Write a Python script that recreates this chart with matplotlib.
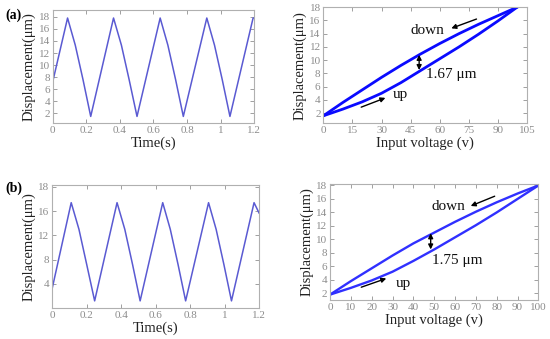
import matplotlib.pyplot as plt

# (a) displacement vs time (peaks, valleys and two points on each falling side)
t_a = [0, 0.088, 0.134, 0.180, 0.226, 0.362, 0.409, 0.455, 0.502, 0.640, 0.686, 0.732,
       0.778, 0.918, 0.964, 1.010, 1.056, 1.194, 1.2]
d_a = [7.3, 17.8, 13.3, 7.6, 1.5, 17.8, 13.3, 7.6, 1.5, 17.8, 13.3, 7.6,
       1.5, 17.8, 13.3, 7.6, 1.5, 17.8, 17.8]

# (b) displacement vs time
t_b = [0, 0.110, 0.155, 0.200, 0.246, 0.376, 0.421, 0.466, 0.510, 0.641, 0.685, 0.730,
       0.774, 0.907, 0.951, 0.996, 1.040, 1.171, 1.2]
d_b = [3.3, 17.4, 13.0, 7.2, 1.2, 17.4, 13.0, 7.2, 1.2, 17.4, 13.0, 7.2,
       1.2, 17.4, 13.0, 7.2, 1.2, 17.4, 15.7]

# hysteresis loops
volt = [0, 10, 20, 30, 40, 50, 60, 70, 80, 90, 100]
up_a = [1.6, 2.6, 3.7, 5.0, 6.6, 8.4, 10.2, 12.0, 13.9, 15.9, 18.0]
down_a = [1.6, 3.6, 5.5, 7.4, 9.2, 10.9, 12.5, 14.0, 15.4, 16.7, 18.0]
up_b = [1.8, 2.8, 3.9, 5.2, 6.8, 8.5, 10.3, 12.1, 14.0, 16.0, 18.0]
down_b = [1.8, 3.8, 5.7, 7.6, 9.4, 11.0, 12.6, 14.1, 15.5, 16.8, 18.0]

serif = 'Liberation Serif'
grey = '#8c8c8c'


def style(ax):
    for s in ax.spines.values():
        s.set_color('#b0b0b0')
        s.set_linewidth(0.8)
    ax.tick_params(direction='in', top=True, right=True, length=3, width=0.6,
                   color='#909090', labelcolor=grey, labelsize=8, pad=2)
    for lab in ax.get_xticklabels() + ax.get_yticklabels():
        lab.set_fontfamily(serif)


def arrow(ax, x0, y0, x1, y1, both=False):
    ax.annotate('', xy=(x1, y1), xytext=(x0, y0),
                arrowprops=dict(arrowstyle='<|-|>' if both else '-|>', color='black',
                                lw=1.0, mutation_scale=7, shrinkA=0, shrinkB=0))


fig = plt.figure(figsize=(5.5, 3.39), dpi=100)
lab_kw = dict(fontfamily=serif, fontsize=10.5, color='#222222')
txt_kw = dict(fontfamily=serif, fontsize=11, color='#111111')

# (a) left
ax1 = fig.add_axes([0.096, 0.637, 0.366, 0.333])
ax1.plot(t_a, d_a, color='#5a5ad2', lw=1.1)
ax1.set_xlim(0, 1.2)
ax1.set_ylim(0.4, 19.1)
ax1.set_xticks([0, 0.2, 0.4, 0.6, 0.8, 1.0, 1.2])
ax1.set_xticklabels(['0', '0.2', '0.4', '0.6', '0.8', '1', '1.2'])
ax1.set_yticks(range(2, 19, 2))
ax1.set_xlabel('Time(s)', labelpad=1, **lab_kw)
ax1.set_ylabel('Displacement(μm)', labelpad=2, **lab_kw)
style(ax1)

# (a) right
ax2 = fig.add_axes([0.588, 0.637, 0.370, 0.342])
ax2.plot(volt, up_a, color='#0a0aff', lw=2.0)
ax2.plot(volt, down_a, color='#0a0aff', lw=2.0)
ax2.set_xlim(0, 105)
ax2.set_ylim(0.5, 18)
ax2.set_xticks(range(0, 106, 15))
ax2.set_yticks(range(2, 19, 2))
ax2.set_xlabel('Input voltage (v)', labelpad=1, **lab_kw)
ax2.set_ylabel('Displacement(μm)', labelpad=2, **lab_kw)
ax2.text(45, 14.5, 'down', va='center', **txt_kw)
arrow(ax2, 79, 16.2, 66, 14.8)
arrow(ax2, 49.4, 10.8, 49.4, 8.5, both=True)
ax2.text(53, 7.9, '1.67 μm', va='center', **txt_kw)
ax2.text(36, 4.8, 'up', va='center', **txt_kw)
arrow(ax2, 19.5, 2.9, 32, 4.3)
style(ax2)

# (b) left
ax3 = fig.add_axes([0.095, 0.091, 0.376, 0.363])
ax3.plot(t_b, d_b, color='#5a5ad2', lw=1.1)
ax3.set_xlim(0, 1.2)
ax3.set_ylim(0, 20.3)
ax3.set_xticks([0, 0.2, 0.4, 0.6, 0.8, 1.0, 1.2])
ax3.set_xticklabels(['0', '0.2', '0.4', '0.6', '0.8', '1', '1.2'])
ax3.set_yticks([4, 8, 12, 16, 20])
ax3.set_yticklabels(['4', '8', '12', '16', '18'])
ax3.set_xlabel('Time(s)', labelpad=1, **lab_kw)
ax3.set_ylabel('Displacement(μm)', labelpad=2, **lab_kw)
style(ax3)

# (b) right
ax4 = fig.add_axes([0.600, 0.115, 0.379, 0.342])
ax4.plot(volt, up_b, color='#3030ff', lw=1.7)
ax4.plot(volt, down_b, color='#3030ff', lw=1.7)
ax4.set_xlim(0, 100)
ax4.set_ylim(1.0, 18.2)
ax4.set_xticks(range(0, 101, 10))
ax4.set_yticks(range(2, 19, 2))
ax4.set_xlabel('Input voltage (v)', labelpad=1, **lab_kw)
ax4.set_ylabel('Displacement(μm)', labelpad=2, **lab_kw)
ax4.text(48.5, 14.9, 'down', va='center', **txt_kw)
arrow(ax4, 79, 16.4, 67.5, 14.95)
arrow(ax4, 48.3, 10.9, 48.3, 8.5, both=True)
ax4.text(49, 6.9, '1.75 μm', va='center', **txt_kw)
ax4.text(31.5, 3.5, 'up', va='center', **txt_kw)
arrow(ax4, 15, 2.9, 27, 4.2)
style(ax4)

fig.text(0.009, 0.955, '(a)', fontfamily=serif, fontsize=10, fontweight='bold', va='center')
fig.text(0.009, 0.445, '(b)', fontfamily=serif, fontsize=10, fontweight='bold', va='center')

fig.savefig('out.png', dpi=100)
